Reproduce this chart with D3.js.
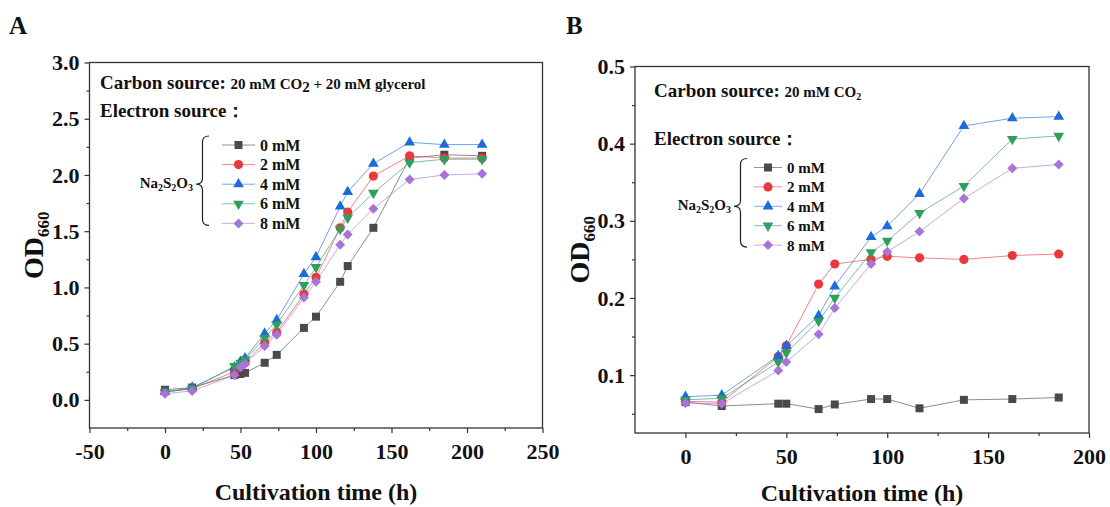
<!DOCTYPE html>
<html>
<head>
<meta charset="utf-8">
<script src="https://cdn.jsdelivr.net/npm/d3@7"></script>
<style>
  body { margin: 0; background: #fff; }
  svg { display: block; }
  text { font-family: "Liberation Serif", "Times New Roman", serif; fill: #111; }
</style>
</head>
<body>
<svg id="chart" width="1110" height="507"></svg>
<script>
// ---- data ----
var timesA = [0, 18, 46, 50, 53, 66, 74, 92, 100, 116, 121, 138, 162, 185, 210];
var a0 = [0.09, 0.11, 0.22, 0.23, 0.24, 0.33, 0.40, 0.64, 0.74, 1.05, 1.19, 1.53, 2.15, 2.18, 2.17];
var a2 = [0.07, 0.10, 0.25, 0.30, 0.33, 0.51, 0.60, 0.94, 1.09, 1.53, 1.67, 1.99, 2.17, 2.15, 2.15];
var a4 = [0.07, 0.11, 0.29, 0.34, 0.37, 0.59, 0.71, 1.12, 1.27, 1.72, 1.85, 2.10, 2.29, 2.27, 2.27];
var a6 = [0.07, 0.10, 0.30, 0.33, 0.36, 0.55, 0.67, 1.02, 1.18, 1.52, 1.62, 1.84, 2.11, 2.14, 2.14];
var a8 = [0.055, 0.08, 0.22, 0.29, 0.32, 0.48, 0.58, 0.91, 1.05, 1.38, 1.47, 1.70, 1.96, 2.00, 2.01];

var timesB = [0, 18, 46, 50, 66, 74, 92, 100, 116, 138, 162, 185];
var b0 = [0.065, 0.060, 0.063, 0.063, 0.056, 0.062, 0.069, 0.069, 0.057, 0.068, 0.069, 0.071];
var b2 = [0.066, 0.065, 0.124, 0.138, 0.218, 0.244, 0.250, 0.254, 0.252, 0.250, 0.255, 0.257];
var b4 = [0.072, 0.074, 0.125, 0.138, 0.177, 0.215, 0.279, 0.293, 0.335, 0.423, 0.433, 0.435];
var b6 = [0.068, 0.070, 0.117, 0.129, 0.170, 0.200, 0.259, 0.274, 0.310, 0.345, 0.406, 0.410];
var b8 = [0.064, 0.063, 0.106, 0.117, 0.153, 0.187, 0.244, 0.260, 0.286, 0.329, 0.368, 0.373];

var seriesLabels = ["0 mM", "2 mM", "4 mM", "6 mM", "8 mM"];
var colors = ["#4a4a4a", "#e8393c", "#1c6bd8", "#2f9e5f", "#a874d8"];
var shapes = ["square", "circle", "up", "down", "diamond"];

var xTicksA = [-50, 0, 50, 100, 150, 200, 250];
var yTicksA = [0, 0.5, 1.0, 1.5, 2.0, 2.5, 3.0];
var xTicksB = [0, 50, 100, 150, 200];
var yTicksB = [0.1, 0.2, 0.3, 0.4, 0.5];

var svg = d3.select("#chart");

function symbolPath(shape) {
  if (shape == "square") return d3.symbol(d3.symbolSquare, 64)();
  if (shape == "circle") return d3.symbol(d3.symbolCircle, 66)();
  if (shape == "up" || shape == "down") return d3.symbol(d3.symbolTriangle, 50)();
  return d3.symbol(d3.symbolSquare, 50)();
}
function symbolRot(shape) {
  if (shape == "down") return " rotate(180)";
  if (shape == "diamond") return " rotate(45)";
  return "";
}

// curly brace opening to the left, tip at (x0, ym)
function brace(x0, x1, y1, y2, ym) {
  var xm = (x0 + x1) / 2, r = 6;
  return "M" + x1 + "," + y1 +
    " Q" + xm + "," + y1 + " " + xm + "," + (y1 + r) +
    " L" + xm + "," + (ym - r) +
    " Q" + xm + "," + ym + " " + x0 + "," + ym +
    " Q" + xm + "," + ym + " " + xm + "," + (ym + r) +
    " L" + xm + "," + (y2 - r) +
    " Q" + xm + "," + y2 + " " + x1 + "," + y2;
}

// plain hyphen for negatives, like the original
var fmtInt = function (d) { return String(d); };
var fmt1 = function (d) { return d.toFixed(1); };

function panel(p) {
  var g = svg.append("g");
  var x = d3.scaleLinear().domain(p.xDomain).range([p.left, p.right]);
  var y = d3.scaleLinear().domain(p.yDomain).range([p.bottom, p.top]);

  // minor ticks
  g.append("g").attr("transform", "translate(0," + p.bottom + ")")
    .call(d3.axisBottom(x).tickValues(p.xMinor).tickSize(3).tickFormat(""))
    .call(function (s) { s.select(".domain").remove(); });
  g.append("g").attr("transform", "translate(" + p.left + ",0)")
    .call(d3.axisLeft(y).tickValues(p.yMinor).tickSize(3).tickFormat(""))
    .call(function (s) { s.select(".domain").remove(); });

  var xa = g.append("g").attr("transform", "translate(0," + p.bottom + ")")
    .call(d3.axisBottom(x).tickValues(p.xTicks).tickSize(5).tickPadding(10).tickFormat(fmtInt));
  var ya = g.append("g").attr("transform", "translate(" + p.left + ",0)")
    .call(d3.axisLeft(y).tickValues(p.yTicks).tickSize(5).tickPadding(5).tickFormat(fmt1));
  [xa, ya].forEach(function (a) {
    a.select(".domain").remove();
    a.selectAll("text").attr("font-size", 22).attr("font-weight", "bold")
      .style("font-family", '"Liberation Serif", serif').attr("fill", "#111");
  });
  g.selectAll(".tick line").attr("stroke", "#333").attr("stroke-width", 1.2);

  g.append("rect").attr("x", p.left).attr("y", p.top)
    .attr("width", p.right - p.left).attr("height", p.bottom - p.top)
    .attr("fill", "none").attr("stroke", "#333").attr("stroke-width", 1.3);

  // series
  var line = d3.line().x(function (d) { return x(d[0]); }).y(function (d) { return y(d[1]); });
  p.series.forEach(function (vals, i) {
    var pts = p.times.map(function (t, j) { return [t, vals[j]]; });
    g.append("path").datum(pts).attr("d", line)
      .attr("fill", "none").attr("stroke", colors[i]).attr("stroke-width", 0.9).attr("stroke-opacity", 0.7);
  });
  p.series.forEach(function (vals, i) {
    g.selectAll(null).data(p.times.map(function (t, j) { return [t, vals[j]]; }))
      .enter().append("path")
      .attr("d", symbolPath(shapes[i]))
      .attr("transform", function (d) { return "translate(" + x(d[0]) + "," + y(d[1]) + ")" + symbolRot(shapes[i]); })
      .attr("fill", colors[i]);
  });

  // axis titles
  g.append("text").attr("x", (p.left + p.right) / 2).attr("y", p.titleY)
    .attr("text-anchor", "middle").attr("font-size", 24).attr("font-weight", "bold")
    .text("Cultivation time (h)");
  var yl = g.append("text")
    .attr("transform", "translate(" + p.odX + "," + ((p.top + p.bottom) / 2) + ") rotate(-90)")
    .attr("text-anchor", "middle").attr("font-weight", "bold").attr("font-size", 28);
  yl.append("tspan").text("OD");
  yl.append("tspan").attr("font-size", 17).attr("dy", 6).text("660");

  // panel letter
  g.append("text").attr("x", p.letterX).attr("y", 34).attr("font-size", 25)
    .attr("font-weight", "bold").text(p.letter);

  // annotations
  var c = g.append("text").attr("x", p.textX).attr("y", p.carbonY).attr("font-weight", "bold").attr("font-size", 19);
  c.append("tspan").text("Carbon source: ");
  p.carbon.forEach(function (part) {
    var t = c.append("tspan").attr("font-size", part.sub ? p.subSize : 15).text(part.t);
    if (part.sub) { t.attr("dy", p.subDy); }
    if (part.back) { t.attr("dy", -p.subDy); }
  });
  g.append("text").attr("x", p.textX).attr("y", p.electronY).attr("font-weight", "bold")
    .attr("font-size", 19).text("Electron source：");

  // legend
  var lg = g.append("g");
  seriesLabels.forEach(function (lab, i) {
    var ly = p.legY + i * p.legStep;
    lg.append("line").attr("x1", p.legX0).attr("x2", p.legX1).attr("y1", ly).attr("y2", ly)
      .attr("stroke", colors[i]).attr("stroke-width", 1).attr("stroke-opacity", 0.6);
    lg.append("path").attr("d", symbolPath(shapes[i]))
      .attr("transform", "translate(" + ((p.legX0 + p.legX1) / 2) + "," + ly + ")" + symbolRot(shapes[i]))
      .attr("fill", colors[i]);
    lg.append("text").attr("x", p.legX1 + 5).attr("y", ly + 5.5).attr("font-weight", "bold")
      .attr("font-size", p.legFont).text(lab);
  });
  var by1 = p.legY - 9, by2 = p.legY + 4 * p.legStep + 2, bym = p.legY + 2 * p.legStep;
  lg.append("path").attr("d", brace(p.braceX, p.braceX + 13, by1, by2, bym))
    .attr("fill", "none").attr("stroke", "#222").attr("stroke-width", 1.2);
  var na = lg.append("text").attr("x", p.braceX - 3).attr("y", bym + 4).attr("text-anchor", "end")
    .attr("font-size", 15).attr("font-weight", "bold");
  na.append("tspan").text("Na");
  na.append("tspan").attr("font-size", 10).attr("dy", 3).text("2");
  na.append("tspan").attr("dy", -3).text("S");
  na.append("tspan").attr("font-size", 10).attr("dy", 3).text("2");
  na.append("tspan").attr("dy", -3).text("O");
  na.append("tspan").attr("font-size", 10).attr("dy", 3).text("3");
}

panel({
  letter: "A", letterX: 9,
  xDomain: [-50, 250], yDomain: [-0.25, 3.0],
  left: 89.5, right: 542.5, top: 62.5, bottom: 428,
  xTicks: xTicksA, yTicks: yTicksA,
  xMinor: [-25, 25, 75, 125, 175, 225],
  yMinor: [0.25, 0.75, 1.25, 1.75, 2.25, 2.75],
  times: timesA, series: [a0, a2, a4, a6, a8],
  titleY: 500, odX: 43,
  textX: 100, carbonY: 89, electronY: 117,
  carbon: [{t: "20 mM CO"}, {t: "2", sub: true}, {t: " + 20 mM glycerol", back: true}],
  subSize: 15, subDy: 3,
  legY: 145, legStep: 19.6, legX0: 222, legX1: 255, legFont: 16, braceX: 196
});

panel({
  letter: "B", letterX: 566,
  xDomain: [-25, 200], yDomain: [0.025, 0.5],
  left: 635, right: 1089, top: 66.5, bottom: 433,
  xTicks: xTicksB, yTicks: yTicksB,
  xMinor: [25, 75, 125, 175],
  yMinor: [0.05, 0.15, 0.25, 0.35, 0.45],
  times: timesB, series: [b0, b2, b4, b6, b8],
  titleY: 501, odX: 589,
  textX: 654, carbonY: 97, electronY: 145,
  carbon: [{t: "20 mM CO"}, {t: "2", sub: true}],
  subSize: 10, subDy: 3,
  legY: 167.5, legStep: 19.4, legX0: 754, legX1: 782, legFont: 15, braceX: 734
});
</script>
</body>
</html>
